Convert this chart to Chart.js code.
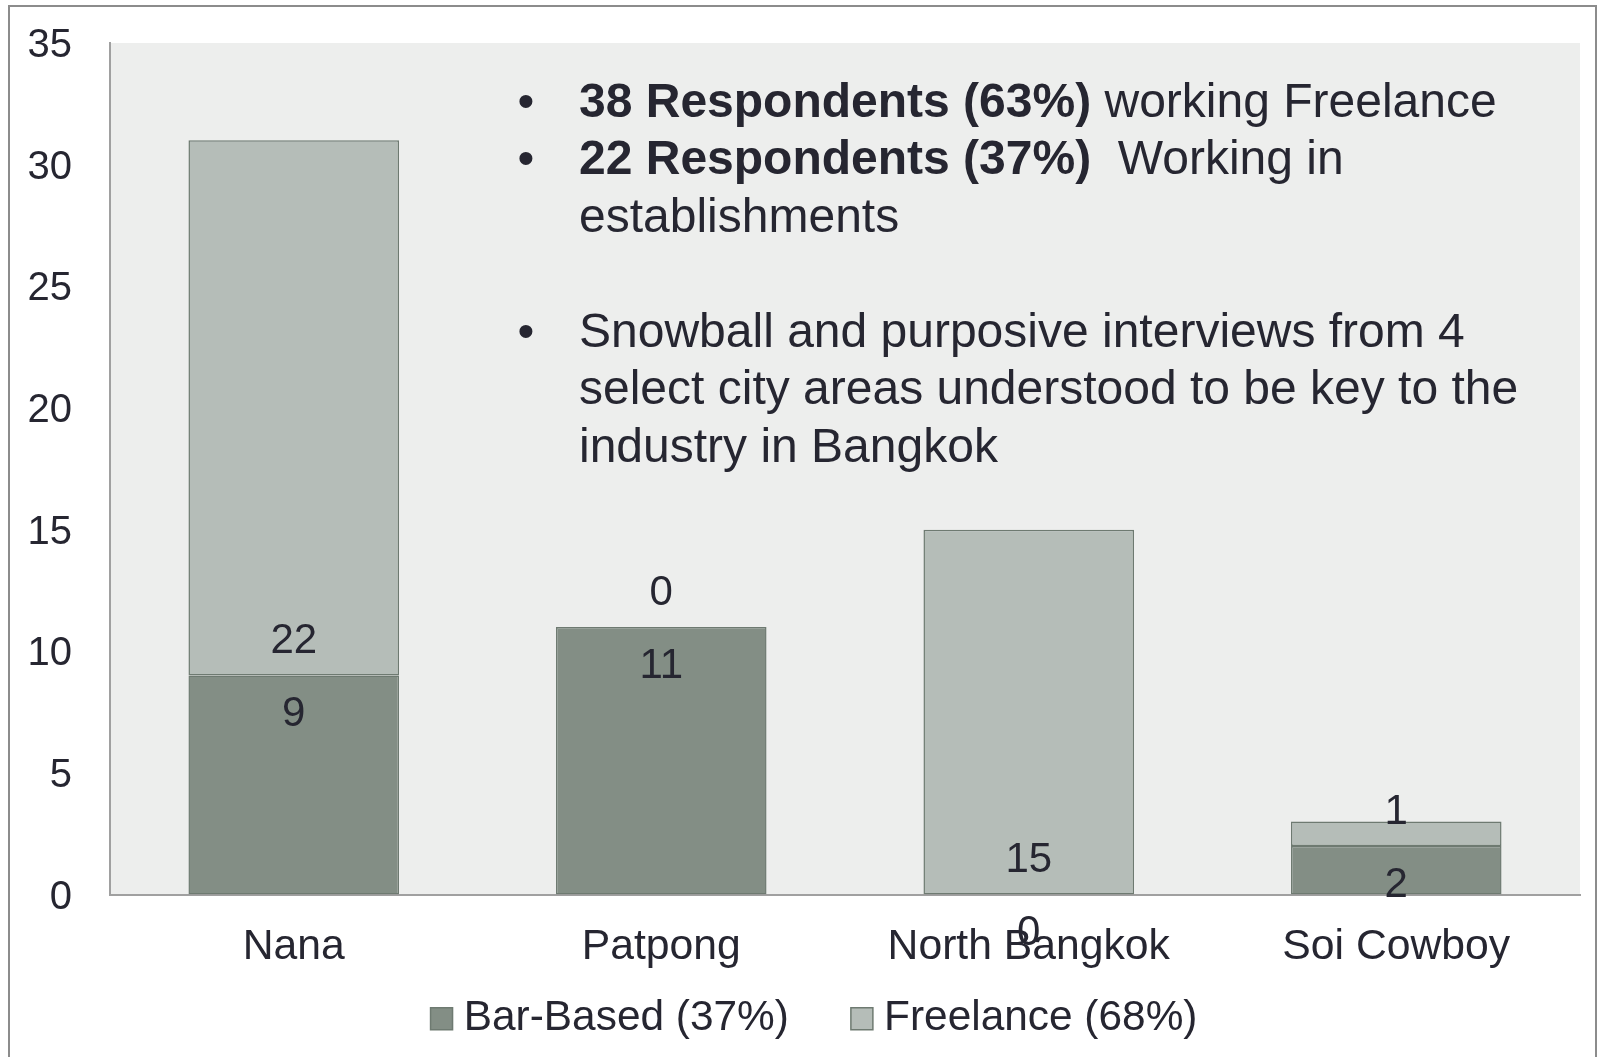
<!DOCTYPE html>
<html>
<head>
<meta charset="utf-8">
<script src="https://cdn.jsdelivr.net/npm/chart.js@4.4.1/dist/chart.umd.min.js"></script>
<style>
  html, body { margin: 0; padding: 0; background: #ffffff; overflow: hidden; }
  #wrap { position: relative; width: 1601px; height: 1057px; }
  #frame { position: absolute; left: 8px; top: 5px; width: 1589px; height: 1100px;
           border: 2px solid #8c8c8c; box-sizing: border-box; pointer-events: none; }
  #notes { position: absolute; left: 579px; top: 71.6px; font-family: "Liberation Sans", Arial, sans-serif;
           font-size: 48px; line-height: 57.5px; color: #262631; white-space: nowrap; }
  #notes div { position: relative; height: 57.5px; }
  #notes .b { position: absolute; left: -61.4px; top: 0; }
</style>
</head>
<body>
<div id="wrap">
  <canvas id="c"></canvas>
  <div id="notes">
    <div><span class="b">•</span><b>38 Respondents (63%)</b> working Freelance</div>
    <div><span class="b">•</span><b>22 Respondents (37%)</b>&nbsp; Working in</div>
    <div>establishments</div>
    <div>&nbsp;</div>
    <div><span class="b">•</span>Snowball and purposive interviews from 4</div>
    <div>select city areas understood to be key to the</div>
    <div>industry in Bangkok</div>
  </div>
  <div id="frame"></div>
</div>
<script>
const categories = ['Nana', 'Patpong', 'North Bangkok', 'Soi Cowboy'];
const barBased = [9, 11, 0, 2];
const freelance = [22, 0, 15, 1];
const seriesNames = ['Bar-Based (37%)', 'Freelance (68%)'];
const yMin = 0;
const yMax = 35;
const yStep = 5;

const FONT = '"Liberation Sans", Arial, sans-serif';
const TEXT = '#262631';
const DARK = '#838e85';
const LIGHT = '#b5bdb8';
const EDGE = '#6e7a71';

const plotBg = {
  id: 'plotBg',
  beforeDraw(chart) {
    const { ctx, chartArea: { left, top, right, bottom } } = chart;
    ctx.save();
    ctx.fillStyle = '#edeeed';
    ctx.fillRect(left, top, right - left, bottom - top);
    ctx.restore();
  }
};

// widen the label clip areas of the axes so tick labels are not cut off; nudge legend
const labelRoom = {
  id: 'labelRoom',
  afterLayout(chart) {
    chart.scales.y.left = 0;
    chart.scales.x.bottom = chart.scales.x.top + 90;
    chart.legend.top += 2;
    chart.legend.bottom += 2;
  }
};

const valueLabels = {
  id: 'valueLabels',
  afterDatasetsDraw(chart) {
    const ctx = chart.ctx;
    ctx.save();
    ctx.font = '42px ' + FONT;
    ctx.fillStyle = TEXT;
    ctx.textAlign = 'center';
    ctx.textBaseline = 'middle';
    chart.data.datasets.forEach((ds, di) => {
      const meta = chart.getDatasetMeta(di);
      meta.data.forEach((el, i) => {
        const v = ds.data[i];
        const y = di === 0 ? el.y + 39 : el.base - 34;
        ctx.fillText(String(v), el.x, y);
      });
    });
    ctx.restore();
  }
};

new Chart(document.getElementById('c'), {
  type: 'bar',
  data: {
    labels: categories,
    datasets: [
      { label: seriesNames[0], data: barBased, backgroundColor: DARK, borderColor: EDGE,
        borderWidth: 1.5, borderSkipped: false, categoryPercentage: 1, barPercentage: 0.573 },
      { label: seriesNames[1], data: freelance, backgroundColor: LIGHT, borderColor: EDGE,
        borderWidth: 1.5, borderSkipped: false, categoryPercentage: 1, barPercentage: 0.573 }
    ]
  },
  options: {
    responsive: true,
    maintainAspectRatio: false,
    animation: false,
    events: [],
    layout: { padding: { left: 58, right: 21, top: 43, bottom: 9 } },
    plugins: {
      tooltip: { enabled: false },
      legend: {
        position: 'bottom',
        labels: {
          usePointStyle: true, pointStyle: 'rect', boxWidth: 2, boxHeight: 22, padding: 72,
          font: { size: 42.4, family: FONT }, color: TEXT
        }
      }
    },
    scales: {
      x: {
        stacked: true,
        grid: { display: false, drawTicks: false },
        border: { display: true, color: '#a0a0a0', width: 2 },
        ticks: { font: { size: 42.7, family: FONT }, color: TEXT, padding: 27, maxRotation: 0, autoSkip: false },
        afterFit(s) { s.height = 29; }
      },
      y: {
        stacked: true, min: yMin, max: yMax,
        grid: { display: false, drawTicks: false },
        border: { display: true, color: '#a0a0a0', width: 2 },
        ticks: { stepSize: yStep, font: { size: 40, family: FONT, lineHeight: 0.1 }, color: TEXT,
                 padding: 38, labelOffset: 3 },
        afterFit(s) { s.width = 52; }
      }
    }
  },
  plugins: [plotBg, labelRoom, valueLabels]
});
</script>
</body>
</html>
